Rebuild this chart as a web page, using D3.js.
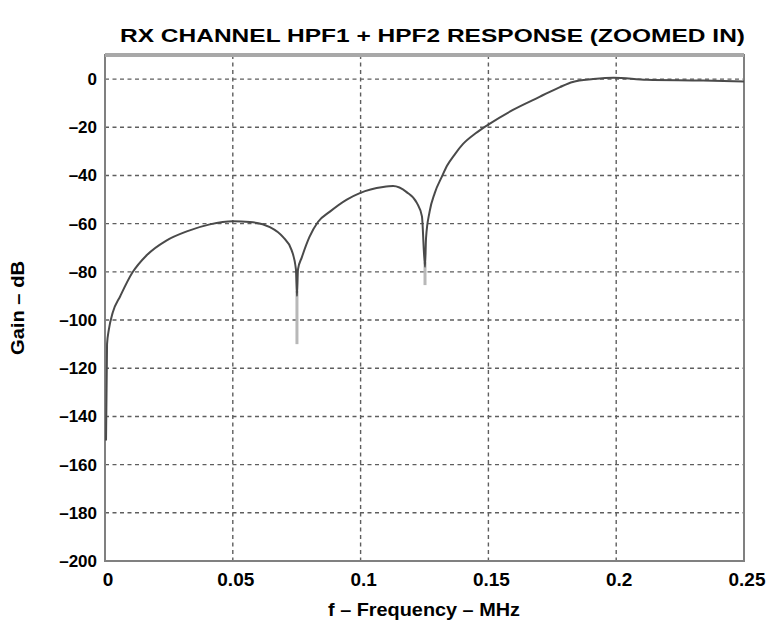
<!DOCTYPE html>
<html><head><meta charset="utf-8">
<script src="https://cdn.jsdelivr.net/npm/d3@7"></script>
<style>body{margin:0;background:#fff}svg{display:block}</style>
</head><body>
<script>
// Data
const freqMHz = [0.0004,0.0008,0.0015,0.003,0.006,0.0106,0.0164,0.024,0.032,0.041,0.050,0.0567,0.0645,0.0696,0.073,0.0747,0.0751,0.0755,0.077,0.080,0.0833,0.088,0.0946,0.0997,0.1088,0.1127,0.118,0.122,0.124,0.1252,0.1256,0.127,0.129,0.1318,0.1338,0.137,0.140,0.145,0.1498,0.1596,0.170,0.178,0.183,0.191,0.199,0.212,0.234,0.25];
const gainDB  = [-150,-110,-104,-97,-90,-80.5,-73,-67,-63.2,-60.3,-59,-59.3,-61.4,-65.5,-71,-79,-90,-79,-74,-65.5,-59.3,-55,-50,-47.3,-44.8,-44.4,-46.9,-51.4,-57,-78,-66,-55,-47.3,-40.5,-36,-31,-27,-22.5,-19,-12.8,-7.4,-3.3,-1.2,0,0.6,-0.3,-0.6,-1];
// light grey tips of the notches
const tipFreq = [0.0751,0.1252];
const tipTop = [-88,-76];
const tipBottom = [-110,-85.5];
const xTicks = [0,0.05,0.1,0.15,0.2,0.25];
const xTickLabels = ["0","0.05","0.1","0.15","0.2","0.25"];
const yTicks = [0,-20,-40,-60,-80,-100,-120,-140,-160,-180,-200];
const yTickLabels = ["0","\u201320","\u201340","\u201360","\u201380","\u2013100","\u2013120","\u2013140","\u2013160","\u2013180","\u2013200"];

const W=766,H=626;
const L=105,R=744,T=55,B=561;
const svg=d3.select("body").append("svg").attr("width",W).attr("height",H);
const x=d3.scaleLinear().domain([0,0.25]).range([L,R]);
const y=d3.scaleLinear().domain([-200,10]).range([B,T]);
const font="'Liberation Sans', Arial, sans-serif";

// grid
const g=svg.append("g");
g.selectAll(".gx").data(xTicks.slice(1,-1)).enter().append("line")
 .attr("x1",d=>x(d)).attr("x2",d=>x(d)).attr("y1",T).attr("y2",B)
 .attr("stroke","#5e5e5e").attr("stroke-width",1.4).attr("stroke-dasharray","4,3.5");
g.selectAll(".gy").data(yTicks.slice(0,-1)).enter().append("line")
 .attr("x1",L).attr("x2",R).attr("y1",d=>y(d)).attr("y2",d=>y(d))
 .attr("stroke","#5e5e5e").attr("stroke-width",1.4).attr("stroke-dasharray","4,3.5");

// frame
svg.append("rect").attr("x",L).attr("y",T).attr("width",R-L).attr("height",B-T)
 .attr("fill","none").attr("stroke","#808080").attr("stroke-width",2);
svg.append("line").attr("x1",L).attr("x2",R).attr("y1",T).attr("y2",T)
 .attr("stroke","#a8a8a8").attr("stroke-width",4);

// tips
svg.selectAll(".tip").data(tipFreq).enter().append("line")
 .attr("x1",d=>x(d)).attr("x2",d=>x(d))
 .attr("y1",(d,i)=>y(tipTop[i])).attr("y2",(d,i)=>y(tipBottom[i]))
 .attr("stroke","#b8b8b8").attr("stroke-width",3);

// curve
const pts=freqMHz.map((f,i)=>[f,gainDB[i]]);
svg.append("path").datum(pts)
 .attr("d",d3.line().x(d=>x(d[0])).y(d=>y(d[1])).curve(d3.curveMonotoneX))
 .attr("fill","none").attr("stroke","#4a4a4a").attr("stroke-width",2);

// tick labels
svg.selectAll(".xl").data(xTicks).enter().append("text")
 .attr("x",d=>x(d)+3).attr("y",586).attr("text-anchor","middle")
 .attr("font-family",font).attr("font-weight","bold").attr("font-size",19)
 .text((d,i)=>xTickLabels[i]);
svg.selectAll(".yl").data(yTicks).enter().append("text")
 .attr("x",97).attr("y",d=>y(d)+6).attr("text-anchor","end")
 .attr("font-family",font).attr("font-weight","bold").attr("font-size",17)
 .text((d,i)=>yTickLabels[i]);

// titles
svg.append("text").attr("x",432.5).attr("y",42).attr("text-anchor","middle")
 .attr("font-family",font).attr("font-weight","bold").attr("font-size",19)
 .attr("textLength",625).attr("lengthAdjust","spacingAndGlyphs")
 .text("RX CHANNEL HPF1 + HPF2 RESPONSE (ZOOMED IN)");
svg.append("text").attr("x",424).attr("y",616).attr("text-anchor","middle")
 .attr("font-family",font).attr("font-weight","bold").attr("font-size",18)
 .attr("textLength",192).attr("lengthAdjust","spacingAndGlyphs")
 .text("f \u2013 Frequency \u2013 MHz");
svg.append("text").attr("transform","translate(24,308) rotate(-90)").attr("text-anchor","middle")
 .attr("font-family",font).attr("font-weight","bold").attr("font-size",18)
 .attr("textLength",94).attr("lengthAdjust","spacingAndGlyphs")
 .text("Gain \u2013 dB");
</script>
</body></html>
